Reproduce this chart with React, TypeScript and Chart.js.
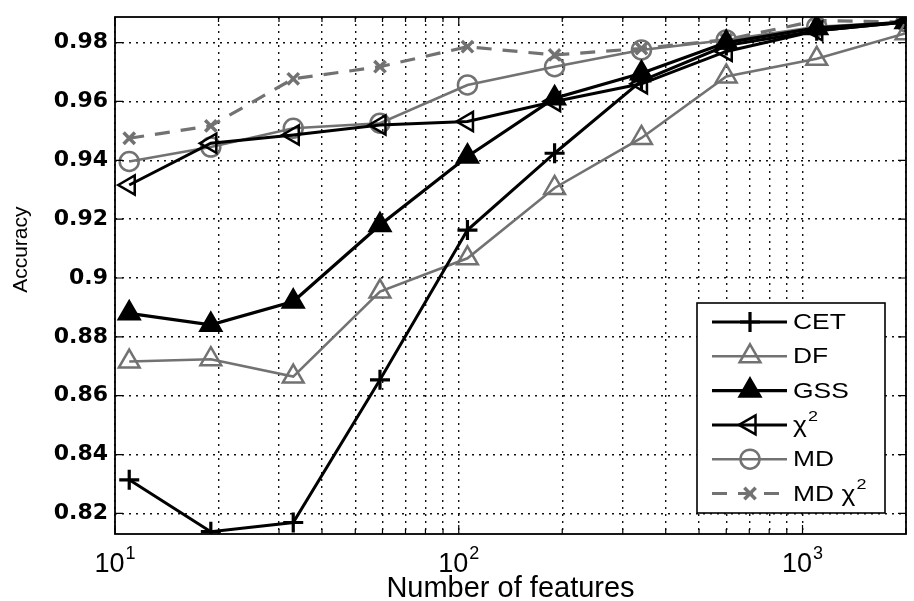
import React, { useEffect, useRef } from 'react';
import { Chart, registerables } from 'chart.js';
import { drawPoint } from 'chart.js/helpers';
Chart.register(...registerables);

const features = [11, 19, 33, 59, 106, 190, 340, 600, 1100, 2000];
const cet = [0.8314, 0.8138, 0.8169, 0.8654, 0.9163, 0.9424, 0.967, 0.979, 0.984, 0.987];
const df = [0.8716, 0.8724, 0.8665, 0.8954, 0.9067, 0.9306, 0.9476, 0.9685, 0.9745, 0.9832];
const gss = [0.888, 0.8841, 0.892, 0.918, 0.9413, 0.9611, 0.9696, 0.98, 0.985, 0.987];
const chi2 = [0.9316, 0.9458, 0.9486, 0.952, 0.9532, 0.96, 0.966, 0.977, 0.984, 0.987];
const md = [0.9396, 0.9445, 0.9509, 0.9526, 0.9656, 0.9718, 0.9775, 0.9809, 0.9854, 0.987];
const mdChi2 = [0.9475, 0.9517, 0.9677, 0.9718, 0.9786, 0.9758, 0.978, 0.981, 0.9875, 0.987];

const seriesNames = ['CET', 'DF', 'GSS', 'χ²', 'MD', 'MD χ²'];
const yTicks = [0.82, 0.84, 0.86, 0.88, 0.9, 0.92, 0.94, 0.96, 0.98];
const yTickLabels = ['0.82', '0.84', '0.86', '0.88', '0.9', '0.92', '0.94', '0.96', '0.98'];
const xGrid = [10, 20, 30, 40, 50, 60, 70, 80, 90, 100, 200, 300, 400, 500, 600, 700, 800, 900, 1000, 2000];
const xMajor = [10, 100, 1000];
const xMajorBase = ['10', '10', '10'];
const xMajorExp = ['1', '2', '3'];
const xTitle = 'Number of features';
const yTitle = 'Accuracy';

const FONT = "'Liberation Sans', Arial, sans-serif";
const GRAY = '#727272';

const pts = (ys: number[]) => features.map((x, i) => ({ x, y: ys[i] }));

// draws text where "²" is rendered as a raised, smaller "2"
function drawSupText(ctx: any, text: string, x: number, y: number, size: number) {
  const parts = text.split('²');
  let cx = x;
  parts.forEach((p, i) => {
    ctx.font = `${size}px ${FONT}`;
    ctx.fillText(p, cx, y);
    cx += ctx.measureText(p).width;
    if (i < parts.length - 1) {
      ctx.font = `${Math.round(size * 0.68)}px ${FONT}`;
      ctx.fillText('2', cx + 1, y - size * 0.42);
      cx += ctx.measureText('2').width + 1;
    }
  });
}

const boxPlugin = {
  id: 'boxPlugin',
  afterDraw(chart: any) {
    const { ctx, chartArea: a, scales } = chart;
    ctx.save();
    // inward tick marks
    ctx.strokeStyle = '#000';
    ctx.lineWidth = 1.2;
    ctx.setLineDash([]);
    const xs = scales.x;
    xGrid.forEach((v) => {
      const px = xs.getPixelForValue(v);
      const len = xMajor.includes(v) ? 9 : 5;
      ctx.beginPath();
      ctx.moveTo(px, a.bottom); ctx.lineTo(px, a.bottom - len);
      ctx.moveTo(px, a.top); ctx.lineTo(px, a.top + len);
      ctx.stroke();
    });
    const ys = scales.y;
    yTicks.forEach((v) => {
      const py = ys.getPixelForValue(v);
      ctx.beginPath();
      ctx.moveTo(a.left, py); ctx.lineTo(a.left + 8, py);
      ctx.moveTo(a.right, py); ctx.lineTo(a.right - 8, py);
      ctx.stroke();
    });
    ctx.lineWidth = 1.8;
    ctx.strokeRect(a.left, a.top, a.right - a.left, a.bottom - a.top);

    ctx.fillStyle = '#000';
    // x tick labels with superscript exponents
    ctx.textBaseline = 'alphabetic';
    ctx.textAlign = 'left';
    xMajor.forEach((v, i) => {
      const px = xs.getPixelForValue(v);
      ctx.font = `27px ${FONT}`;
      const wb = ctx.measureText(xMajorBase[i]).width;
      ctx.font = `18px ${FONT}`;
      const we = ctx.measureText(xMajorExp[i]).width;
      const x0 = px - (wb + we + 1) / 2;
      ctx.font = `27px ${FONT}`;
      ctx.fillText(xMajorBase[i], x0, a.bottom + 38);
      ctx.font = `18px ${FONT}`;
      ctx.fillText(xMajorExp[i], x0 + wb + 1, a.bottom + 25);
    });

    // x title
    ctx.font = `29px ${FONT}`;
    ctx.textAlign = 'center';
    ctx.fillText(xTitle, (a.left + a.right) / 2, a.bottom + 63);

    // y title
    ctx.save();
    ctx.translate(21, a.top + (a.bottom - a.top) * 0.45);
    ctx.rotate(-Math.PI / 2);
    ctx.font = `21px ${FONT}`;
    ctx.textAlign = 'center';
    ctx.textBaseline = 'middle';
    ctx.fillText(yTitle, 0, 0);
    ctx.restore();

    // legend
    const bw = 188, bh = 210;
    const bx = a.right - 21 - bw;
    const by = a.bottom - 21 - bh;
    ctx.fillStyle = '#fff';
    ctx.fillRect(bx, by, bw, bh);
    ctx.lineWidth = 1.6;
    ctx.strokeStyle = '#000';
    ctx.strokeRect(bx, by, bw, bh);
    chart.data.datasets.forEach((ds: any, i: number) => {
      const y = by + 19 + i * 34.3;
      ctx.strokeStyle = ds.borderColor;
      ctx.lineWidth = ds.borderWidth;
      ctx.setLineDash(ds.borderDash || []);
      ctx.beginPath();
      ctx.moveTo(bx + 15, y);
      ctx.lineTo(bx + 90, y);
      ctx.stroke();
      ctx.setLineDash([]);
      ctx.fillStyle = ds.pointBackgroundColor;
      ctx.strokeStyle = ds.pointBorderColor;
      ctx.lineWidth = ds.pointBorderWidth;
      drawPoint(ctx, { pointStyle: ds.pointStyle, rotation: ds.pointRotation || 0, radius: ds.pointRadius, borderWidth: ds.pointBorderWidth }, bx + 53, y);
      ctx.save();
      ctx.translate(bx + 96, y + 1);
      ctx.scale(1.2, 1);
      ctx.fillStyle = '#000';
      ctx.textBaseline = 'middle';
      ctx.textAlign = 'left';
      drawSupText(ctx, ds.label, 0, 0, 22);
      ctx.restore();
    });
    ctx.restore();
  },
};

export default function App() {
  const ref = useRef<HTMLCanvasElement>(null);
  useEffect(() => {
    if (!ref.current) return;
    const mk = (label: string, data: number[], color: string, style: string, extra: any = {}) => ({
      label,
      data: pts(data),
      borderColor: color,
      borderWidth: 3,
      pointStyle: style,
      pointRadius: 9,
      pointBorderColor: color,
      pointBackgroundColor: 'rgba(0,0,0,0)',
      pointBorderWidth: 2.5,
      tension: 0,
      ...extra,
    });
    const chart = new Chart(ref.current, {
      type: 'line',
      data: {
        datasets: [
          mk(seriesNames[0], cet, '#000', 'cross', { pointRadius: 10, pointBorderWidth: 3.2 }),
          mk(seriesNames[1], df, GRAY, 'triangle', { pointRadius: 12, borderWidth: 2.6 }),
          mk(seriesNames[2], gss, '#000', 'triangle', { pointRadius: 12, pointBackgroundColor: '#000', borderWidth: 3.2 }),
          mk(seriesNames[3], chi2, '#000', 'triangle', { pointRotation: -90, pointRadius: 11 }),
          mk(seriesNames[4], md, GRAY, 'circle', { pointRadius: 9.5, borderWidth: 2.6 }),
          mk(seriesNames[5], mdChi2, GRAY, 'crossRot', { pointRadius: 8, pointBorderWidth: 3.5, borderDash: [15, 11], borderWidth: 3.2 }),
        ],
      },
      options: {
        animation: false,
        responsive: true,
        maintainAspectRatio: false,
        layout: { autoPadding: false, padding: { left: 0, right: 8, top: 17, bottom: 0 } },
        plugins: { legend: { display: false }, tooltip: { enabled: false } },
        scales: {
          x: {
            type: 'logarithmic',
            min: 10,
            max: 2000,
            afterBuildTicks: (s: any) => { s.ticks = xGrid.map((v) => ({ value: v, major: xMajor.includes(v) })); },
            afterFit: (s: any) => { s.height = 67; s.paddingLeft = 0; s.paddingRight = 0; },
            ticks: {
              autoSkip: false,
              maxRotation: 0,
              display: true,
              color: 'rgba(0,0,0,0)',
              font: { family: FONT, size: 10 },
              callback: () => '',
            },
            grid: { color: '#111', lineWidth: 1.4, drawTicks: false },
            border: { display: false, dash: [2, 5] },
            title: { display: false },
          },
          y: {
            type: 'linear',
            min: 0.813,
            max: 0.9887,
            afterBuildTicks: (s: any) => { s.ticks = yTicks.map((v) => ({ value: v })); },
            afterFit: (s: any) => { s.width = 115; s.paddingTop = 0; s.paddingBottom = 0; },
            ticks: {
              padding: 7,
              color: '#000',
              font: { family: "'DejaVu Sans', sans-serif", size: 22, weight: 'bold' },
              callback: (v: any) => { const k = yTicks.findIndex((t) => Math.abs(t - Number(v)) < 1e-6); return k >= 0 ? yTickLabels[k] : ''; },
            },
            grid: { color: '#111', lineWidth: 1.4, drawTicks: false },
            border: { display: false, dash: [2, 5] },
            title: { display: false },
          },
        },
      },
      plugins: [boxPlugin],
    });
    return () => chart.destroy();
  }, []);
  return (
    <div style={{ position: 'fixed', left: 0, top: 0, width: 914, height: 601, background: '#fff' }}>
      <canvas ref={ref} />
    </div>
  );
}
